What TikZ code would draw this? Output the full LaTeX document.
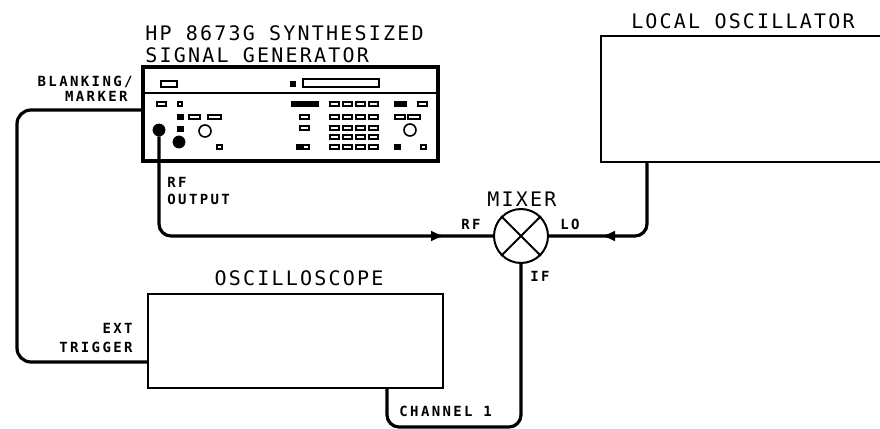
\documentclass[tikz,border=0pt]{standalone}
\usepackage{fontspec}
\newfontfamily\plotfont[LetterSpace=11]{DejaVu Sans Mono}
\newfontfamily\tagfont[LetterSpace=17]{DejaVu Sans Mono}
\usetikzlibrary{arrows.meta}
\usetikzlibrary{decorations.markings}
\tikzset{
	boxstyle/.style={rectangle,draw=black,line width=1pt,inner sep=0pt},
	genstyle/.style={rectangle,draw=black,line width=1.6pt,inner sep=0pt},
	mixstyle/.style={circle,draw=black,line width=1pt,minimum size=27pt,inner sep=0pt},
	jackstyle/.style={circle,draw=black,fill=black,minimum size=6pt,inner sep=0pt},
	cable/.style={draw=black,line width=1.6pt,rounded corners=6pt},
	btn/.style={draw=black,line width=0.6pt},
	fbtn/.style={draw=black,fill=black,line width=0.6pt},
	titlestyle/.style={font=\plotfont\fontsize{10}{12}\selectfont,inner sep=0pt},
	tagstyle/.style={font=\tagfont\bfseries\fontsize{7}{8}\selectfont,inner sep=0pt},
	flowtip/.style={postaction={decorate},decoration={markings,
		mark=at position #1 with {\arrow{Latex[length=7pt,width=5.5pt]}}}}
}
\begin{document}
\begin{tikzpicture}[x=0.5pt,y=-0.5pt]
	\clip (0,0) rectangle (880,429);
	\node[genstyle,minimum width=147.5pt,minimum height=47pt] (gen) at (290.5,114) {};
	\node[boxstyle,minimum width=150pt,minimum height=63pt] (lo) at (751,99) {};
	\node[boxstyle,minimum width=147.5pt,minimum height=47pt] (osc) at (295.5,341) {};
	\node[mixstyle] (mix) at (521,236) {};
	\node[jackstyle] (rfout) at (159,130) {};
	\node[jackstyle] (aux) at (179,142) {};
	\draw[line width=1pt] (mix.north west) -- (mix.south east);
	\draw[line width=1pt] (mix.south west) -- (mix.north east);
	% titles
	\node[titlestyle,anchor=base west] (t1) at (145,40) {HP 8673G SYNTHESIZED};
	\node[titlestyle,anchor=base west] (t2) at (145,62) {SIGNAL GENERATOR};
	\node[titlestyle,anchor=base] (tlo) at (743,28) {LOCAL OSCILLATOR};
	\node[titlestyle,anchor=base] (tosc) at (299,285) {OSCILLOSCOPE};
	\node[titlestyle,anchor=base] (tmix) at (522,206) {MIXER};
	% port labels
	\node[tagstyle,anchor=base east] (b1) at (133,86) {BLANKING/};
	\node[tagstyle,anchor=base east] (b2) at (128,101) {MARKER};
	\node[tagstyle,anchor=base west] (r1) at (167,187) {RF};
	\node[tagstyle,anchor=base west] (r2) at (167,204) {OUTPUT};
	\node[tagstyle,anchor=base east] (e1) at (133,333) {EXT};
	\node[tagstyle,anchor=base east] (e2) at (133,352) {TRIGGER};
	\node[tagstyle,anchor=base west] (mrf) at (461,229) {RF};
	\node[tagstyle,anchor=base west] (mlo) at (560,229) {LO};
	\node[tagstyle,anchor=base west] (mif) at (530,281) {IF};
	\node[tagstyle,anchor=base west] (ch) at (399,416) {CHANNEL 1};
	% front panel
	\draw[line width=0.8pt] (143,93) -- (438,93);
	\draw[btn] (161,81) rectangle (177,87);
	\draw[fbtn] (291,82) rectangle (295,86);
	\draw[btn] (303,79) rectangle (379,87);
	\foreach \x in {330,343,356,369}
		\foreach \y in {102,115,126,135,145}
			\draw[btn] (\x,\y) rectangle ++(9,4);
	\foreach \x in {292,299,306,313}
		\draw[fbtn] (\x,102) rectangle ++(5,4);
	\draw[btn] (157,102) rectangle (166,106);
	\draw[btn] (178,102) rectangle (182,106);
	\draw[fbtn] (395,102) rectangle (400,106);
	\draw[fbtn] (401,102) rectangle (406,106);
	\draw[btn] (418,102) rectangle (427,106);
	\draw[fbtn] (178,115) rectangle (183,119);
	\draw[btn] (189,115) rectangle (200,119);
	\draw[btn] (208,115) rectangle (221,119);
	\draw[btn] (300,115) rectangle (309,119);
	\draw[btn] (395,115) rectangle (405,119);
	\draw[btn] (408,115) rectangle (420,119);
	\draw[fbtn] (178,127) rectangle (183,131);
	\draw[btn] (300,126) rectangle (309,130);
	\draw[line width=0.8pt] (205,131) circle (6);
	\draw[line width=0.8pt] (410,130) circle (6);
	\draw[btn] (217,145) rectangle (222,149);
	\draw[fbtn] (297,145) rectangle (302,149);
	\draw[btn] (303,145) rectangle (309,149);
	\draw[fbtn] (395,145) rectangle (400,149);
	\draw[btn] (421,145) rectangle (426,149);
	% cables
	\draw[cable,rounded corners=7pt] (gen.west |- 0,110) -- (17,110) -- (17,362) -- (osc.west |- 0,362);
	\draw[cable,flowtip=-24pt] (rfout) |- (mix.west);
	\draw[cable,flowtip=-26pt] (lo.south -| 647,0) |- (mix.east);
	\draw[cable] (mix.south) |- (387,427) -- (osc.south -| 387,0);
\end{tikzpicture}
\end{document}
